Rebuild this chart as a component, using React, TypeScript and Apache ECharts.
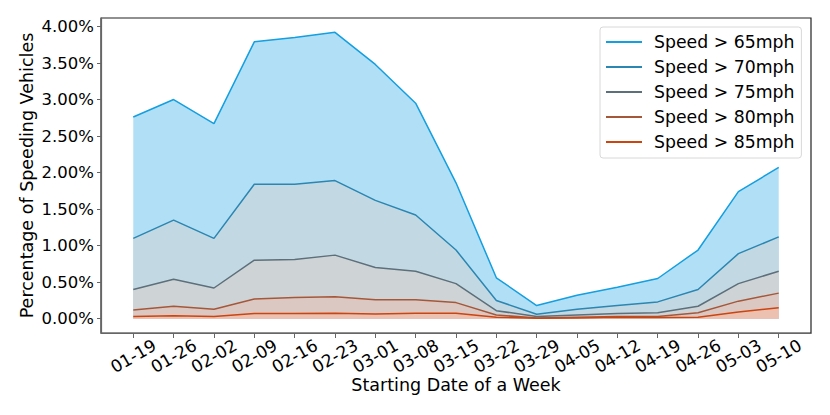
import React, { useEffect, useRef } from "react";
import * as echarts from "echarts";

const weeks = ["01-19", "01-26", "02-02", "02-09", "02-16", "02-23", "03-01", "03-08", "03-15", "03-22", "03-29", "04-05", "04-12", "04-19", "04-26", "05-03", "05-10"];
const seriesNames = ["Speed > 65mph", "Speed > 70mph", "Speed > 75mph", "Speed > 80mph", "Speed > 85mph"];
const over65 = [2.76, 3.0, 2.67, 3.79, 3.85, 3.92, 3.48, 2.95, 1.86, 0.56, 0.18, 0.32, 0.43, 0.55, 0.94, 1.74, 2.07];
const over70 = [1.1, 1.35, 1.1, 1.84, 1.84, 1.89, 1.62, 1.42, 0.94, 0.25, 0.06, 0.13, 0.18, 0.23, 0.4, 0.89, 1.12];
const over75 = [0.4, 0.54, 0.42, 0.8, 0.81, 0.87, 0.7, 0.65, 0.48, 0.11, 0.03, 0.05, 0.07, 0.08, 0.17, 0.48, 0.65];
const over80 = [0.12, 0.17, 0.13, 0.27, 0.29, 0.3, 0.26, 0.26, 0.22, 0.05, 0.01, 0.02, 0.03, 0.03, 0.08, 0.24, 0.35];
const over85 = [0.03, 0.04, 0.03, 0.07, 0.07, 0.075, 0.065, 0.075, 0.075, 0.02, 0.005, 0.01, 0.02, 0.015, 0.02, 0.09, 0.15];
const yTicks = [0, 0.5, 1, 1.5, 2, 2.5, 3, 3.5, 4];

const lineColors = ["#139fe0", "#2b86b1", "#5c6f7b", "#a5573a", "#cc4410"];
const fillColors = ["#b1dff6", "#c2d9e4", "#ced3d5", "#dcc8c2", "#ecc1b0"];

export default function App() {
  const ref = useRef<HTMLDivElement>(null);
  useEffect(() => {
    document.body.style.margin = "0";
    if (!ref.current) return;
    const chart = echarts.init(ref.current, null, { renderer: "svg" });
    const font = "DejaVu Sans";
    const all = [over65, over70, over75, over80, over85];
    const xIdx = weeks.map((_, i) => i);
    chart.setOption({
      animation: false,
      textStyle: { fontFamily: font },
      grid: { left: 101, top: 18, right: 19, bottom: 82, show: true, borderColor: "#222", borderWidth: 1.2, backgroundColor: "transparent" },
      legend: {
        orient: "vertical",
        left: 600,
        top: 27,
        padding: [5, 7, 6, 6],
        icon: "rect",
        itemWidth: 36,
        itemHeight: 2,
        itemGap: 5,
        borderColor: "#d8d8d8",
        borderWidth: 1,
        borderRadius: 3,
        backgroundColor: "rgba(255,255,255,0.8)",
        textStyle: { fontFamily: font, fontSize: 17.3, color: "#000", lineHeight: 20, height: 20, padding: [0, 0, 0, 7] },
        data: seriesNames,
      },
      xAxis: {
        type: "value",
        min: -0.8,
        max: 16.8,
        name: "Starting Date of a Week",
        nameLocation: "middle",
        nameGap: 43,
        nameMoveOverlap: false,
        nameTextStyle: { fontFamily: font, fontSize: 17.5, color: "#000" },
        splitLine: { show: false },
        axisLine: { show: true, onZero: false, lineStyle: { color: "#666", width: 1.2 } },
        axisTick: { show: true, customValues: xIdx, length: 5, lineStyle: { color: "#666" } },
        axisLabel: {
          customValues: xIdx,
          rotate: 30,
          align: "center",
          verticalAlign: "middle",
          margin: 23,
          fontFamily: font,
          fontSize: 17,
          color: "#000",
          formatter: (v: number) => weeks[Math.round(v)] ?? "",
        },
      },
      yAxis: {
        type: "value",
        min: -0.196,
        max: 4.116,
        name: "Percentage of Speeding Vehicles",
        nameLocation: "middle",
        nameGap: 65,
        nameMoveOverlap: false,
        nameTextStyle: { fontFamily: font, fontSize: 17.5, color: "#000" },
        splitLine: { show: false },
        axisLine: { show: true, onZero: false, lineStyle: { color: "#666", width: 1.2 } },
        axisTick: { show: true, customValues: yTicks, length: 4, lineStyle: { color: "#666" } },
        axisLabel: {
          customValues: yTicks,
          margin: 7,
          fontFamily: font,
          fontSize: 16.5,
          color: "#000",
          formatter: (v: number) => v.toFixed(2) + "%",
        },
      },
      series: all.map((vals, k) => ({
        name: seriesNames[k],
        type: "line",
        symbol: "none",
        color: lineColors[k],
        itemStyle: { color: lineColors[k] },
        lineStyle: { color: lineColors[k], width: 1.5 },
        areaStyle: { color: fillColors[k], opacity: 1, origin: 0 },
        data: vals.map((v, i) => [i, v]),
        z: 2 + k,
      })),
    });
    return () => chart.dispose();
  }, []);
  return <div ref={ref} style={{ width: 830, height: 415 }} />;
}
